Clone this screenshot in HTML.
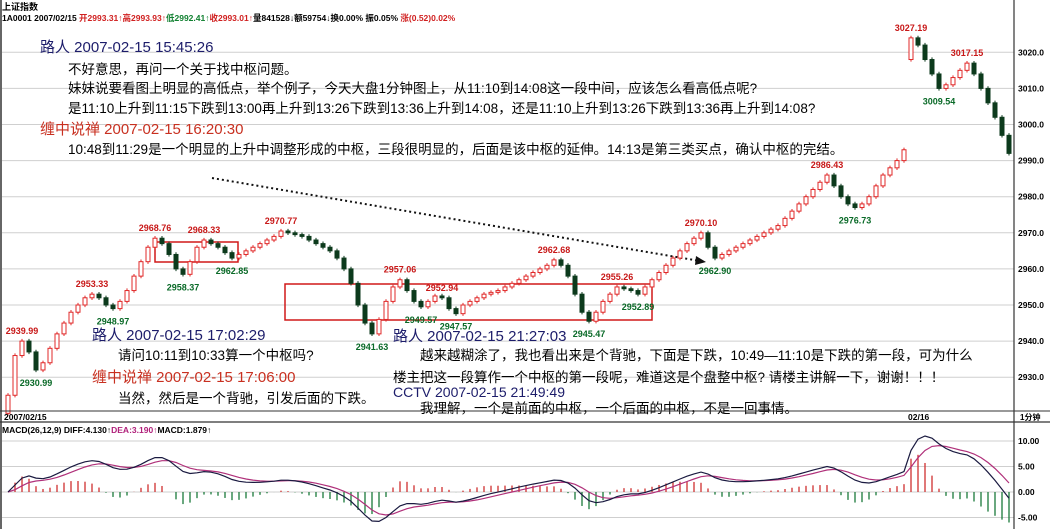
<!DOCTYPE html>
<html><head><meta charset="utf-8">
<style>
body{margin:0;background:#fff;width:1050px;height:529px;overflow:hidden;font-family:"Liberation Sans","Noto Sans CJK SC",sans-serif;}
svg{display:block}
</style></head>
<body>
<svg id="chart" width="1050" height="529" viewBox="0 0 1050 529" xmlns="http://www.w3.org/2000/svg">
<rect x="0" y="0" width="1050" height="529" fill="#fff"/>
<g id="grid"></g>
<g id="macdgrid"></g>
<text x="2" y="10" font-size="9" font-weight="bold">上证指数</text>
<text x="2" y="21" font-size="8.5" font-weight="bold">1A0001 2007/02/15 <tspan fill="#d02020">开2993.31↑高2993.93↑</tspan><tspan fill="#108030">低2992.41↑</tspan><tspan fill="#d02020">收2993.01↑</tspan>量841528↓额59754↓换0.00% 振0.05% <tspan fill="#d02020">涨(0.52)0.02%</tspan></text>
<line x1="1014" y1="0" x2="1014" y2="529" stroke="#333" stroke-width="1.2"/>
<line x1="1" y1="0" x2="1" y2="529" stroke="#333" stroke-width="1.5"/>
<g id="yaxis"></g>
<g id="boxes">
<rect x="155" y="242" width="83" height="20" fill="none" stroke="#d01818" stroke-width="1.5"/>
<rect x="285" y="284" width="367" height="36" fill="none" stroke="#d01818" stroke-width="1.5"/>
</g>
<line x1="212" y1="178" x2="700" y2="261" stroke="#111" stroke-width="2" stroke-dasharray="2,3"/>
<polygon points="706,262 696,256 695,265" fill="#111"/>
<g id="candles"></g>
<g id="labels"></g>
<g id="comments" font-size="13.5">
<text x="40" y="52" font-size="15" fill="#1c1c6a">路人 2007-02-15 15:45:26</text>
<text x="68" y="74">不好意思，再问一个关于找中枢问题。</text>
<text x="68" y="93">妹妹说要看图上明显的高低点，举个例子，今天大盘1分钟图上，从11:10到14:08这一段中间，应该怎么看高低点呢?</text>
<text x="68" y="113">是11:10上升到11:15下跌到13:00再上升到13:26下跌到13:36上升到14:08，还是11:10上升到13:26下跌到13:36再上升到14:08?</text>
<text x="40" y="134" font-size="15" fill="#c83020">缠中说禅 2007-02-15 16:20:30</text>
<text x="68" y="154">10:48到11:29是一个明显的上升中调整形成的中枢，三段很明显的，后面是该中枢的延伸。14:13是第三类买点，确认中枢的完结。</text>
<text x="92" y="340" font-size="15" fill="#1c1c6a">路人 2007-02-15 17:02:29</text>
<text x="118" y="360">请问10:11到10:33算一个中枢吗?</text>
<text x="92" y="382" font-size="15" fill="#c83020">缠中说禅 2007-02-15 17:06:00</text>
<text x="118" y="403">当然，然后是一个背驰，引发后面的下跌。</text>
<text x="393" y="341" font-size="15" fill="#1c1c6a">路人 2007-02-15 21:27:03</text>
<text x="420" y="360">越来越糊涂了，我也看出来是个背驰，下面是下跌，10:49—11:10是下跌的第一段，可为什么</text>
<text x="393" y="382">楼主把这一段算作一个中枢的第一段呢，难道这是个盘整中枢? 请楼主讲解一下，谢谢！！！</text>
<text x="393" y="397" font-size="14" fill="#1c1c6a">CCTV 2007-02-15 21:49:49</text>
<text x="420" y="413">我理解，一个是前面的中枢，一个后面的中枢，不是一回事情。</text>
</g>
<g>
<line x1="0" y1="411" x2="1050" y2="411" stroke="#333" stroke-width="1"/>
<line x1="0" y1="422" x2="1050" y2="422" stroke="#333" stroke-width="1.2"/>
<text x="4" y="420" font-size="8.5" font-weight="bold">2007/02/15</text>
<text x="908" y="420" font-size="8.5" font-weight="bold">02/16</text>
<text x="1020" y="420" font-size="8" font-weight="bold">1分钟</text>
</g>
<text x="2" y="433" font-size="8.5" font-weight="bold">MACD(26,12,9) DIFF:4.130↑<tspan fill="#b0207a">DEA:3.190↑</tspan>MACD:1.879↑</text>
<g id="macd"></g>
</svg>
<script>
const closes=[2925,2936,2940,2937,2932,2934,2938,2942,2945,2948,2950,2952,2953,2952,2950,2949,2951,2954,2958,2962,2966,2968.5,2967,2964,2960,2958.5,2962,2966,2968,2967,2966,2964.5,2963,2964,2965,2966,2967,2968,2969,2970.5,2970,2969.5,2969,2968,2967,2966,2965,2963,2960,2956,2950,2945,2942,2946,2951,2955,2957,2954,2951,2949.5,2951,2952.5,2952,2949,2947.6,2950,2951,2952,2953,2953.5,2954,2955,2956,2957,2958,2959,2960,2961,2962.5,2961,2958,2953,2948,2945.5,2948,2951,2953,2955,2954.5,2954,2953,2955,2957,2959,2961,2963,2965,2967,2968.5,2970,2966,2963,2964,2965,2966,2967,2968,2969,2970,2971,2972,2974,2976,2978,2980,2982,2984,2986,2983,2980,2978,2977,2978,2980,2983,2986,2988,2990,2993,3024,3022,3018,3014,3010,3011,3013,3015,3017,3014,3010,3006,3002,2997,2992];
const gapOpens={0:2920,129:3018};
const priceTicks=[3020,3010,3000,2990,2980,2970,2960,2950,2940,2930];
const macdTicks=[10,5,0,-5];
const labelIdx=[2,4,12,15,21,25,28,32,39,52,56,59,62,64,78,83,87,90,99,101,117,121,129,133,137];
const labelText=["2939.99","2930.99","2953.33","2948.97","2968.76","2958.37","2968.33","2962.85","2970.77","2941.63","2957.06","2949.57","2952.94","2947.57","2962.68","2945.47","2955.26","2952.89","2970.10","2962.90","2986.43","2976.73","3027.19","3009.54","3017.15"];
const labelHigh=[1,0,1,0,1,0,1,0,1,0,1,0,1,0,1,0,1,0,1,0,1,0,1,0,1];

const NS="http://www.w3.org/2000/svg";
function mk(tag,attrs,parent){const e=document.createElementNS(NS,tag);for(const k in attrs)e.setAttribute(k,attrs[k]);parent.appendChild(e);return e;}
const y=p=>305-(p-2950)*3.61;
const x=i=>8+i*(1001/(closes.length-1));
const my=v=>492-v*5.1;

const grid=document.getElementById('grid'),yax=document.getElementById('yaxis');
priceTicks.forEach(t=>{
  const l=mk('line',{x1:2,x2:1014,y1:y(t),y2:y(t),stroke:'#cfcfcf','stroke-width':1},grid);
  
  
  const tx=mk('text',{x:1018,y:y(t)+3,'font-size':8.5,'font-weight':'bold'},yax);tx.textContent=t.toFixed(1);
  
  
});
const mg=document.getElementById('macdgrid');
macdTicks.forEach(t=>{
  const l=mk('line',{x1:2,x2:1014,y1:my(t),y2:my(t),stroke:'#cfcfcf','stroke-width':1},mg);
  
  
  const tx=mk('text',{x:1018,y:my(t)+3,'font-size':8.5,'font-weight':'bold'},mg);tx.textContent=t.toFixed(2);
  
  
});

const cg=document.getElementById('candles');
closes.forEach((c,i)=>{
  const o=(i in gapOpens)?gapOpens[i]:closes[i-1];
  const up=c>=o;const hi=Math.max(o,c)+0.6,lo=Math.min(o,c)-0.6;
  const col=up?'#e02828':'#0c3a1c';
  const w=mk('line',{x1:x(i),x2:x(i),y1:y(hi),y2:y(lo),stroke:col,'stroke-width':1},cg);
  
  
  const top=y(Math.max(o,c)),h=Math.max(1.5,Math.abs(y(o)-y(c)));
  const r=mk('rect',{x:x(i)-2,y:top,width:4,height:h,fill:up?'#fff':col,stroke:col,'stroke-width':1},cg);
  
  
});

const lg=document.getElementById('labels');
labelIdx.forEach((idx,k)=>{
  const hi=labelHigh[k];const p=closes[idx];
  const t=mk('text',{x:x(idx),y:hi?y(p)-7:y(p)+16,'font-size':9,'font-weight':'bold','text-anchor':'middle',fill:hi?'#c81818':'#0a6a28'},lg);
  t.textContent=labelText[k];
  
  
});

function ema(arr,n){const a=2/(n+1);const out=[];arr.forEach((v,i)=>out.push(i?out[i-1]+a*(v-out[i-1]):v));return out;}
const e12=ema(closes,7),e26=ema(closes,15);
const diff=e12.map((v,i)=>v-e26[i]);
const dea=ema(diff,5);
const hist=diff.map((v,i)=>2*(v-dea[i]));
const mgp=document.getElementById('macd');
hist.forEach((h,i)=>{
  const b=mk('line',{x1:x(i),x2:x(i),y1:my(0),y2:my(h),stroke:h>=0?'#d03030':'#1a7a3a','stroke-width':1.3},mgp);
  
  
});
const pd=a=>a.map((v,i)=>(i?'L':'M')+x(i).toFixed(1)+','+my(v).toFixed(1)).join('');
const l1=mk('path',{d:pd(dea),fill:'none',stroke:'#b0307a','stroke-width':1.2},mgp);


const l2=mk('path',{d:pd(diff),fill:'none',stroke:'#1a1a40','stroke-width':1.2},mgp);


</script>
</body></html>
